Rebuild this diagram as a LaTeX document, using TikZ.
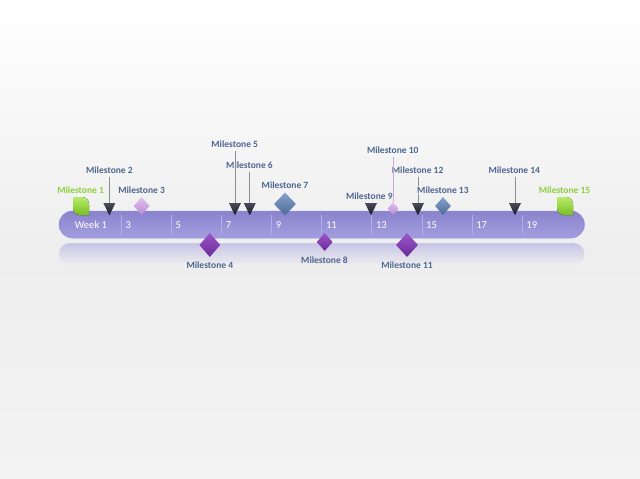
\documentclass[tikz,border=0pt]{standalone}
\usepackage{fontspec}
\setmainfont{Carlito}
\usetikzlibrary{shapes.geometric,fadings}
\definecolor{lbl}{HTML}{4E6590}
\definecolor{grn}{HTML}{8CCF3A}
\definecolor{bgtop}{HTML}{FFFFFF}
\definecolor{bgmid}{HTML}{EEEEEE}
\definecolor{bgbot}{HTML}{F3F3F3}
\definecolor{bgat190}{HTML}{F2F2F2}
\definecolor{bartop}{HTML}{8A83CD}
\definecolor{barbot}{HTML}{A39EE0}
\definecolor{barrim}{HTML}{9590D8}
\definecolor{divc}{HTML}{B3AFE6}
\definecolor{refl}{HTML}{C8C5E6}
\definecolor{purA}{HTML}{9C56C9}
\definecolor{purB}{HTML}{6A2A98}
\definecolor{bluA}{HTML}{86A2CB}
\definecolor{bluB}{HTML}{4D6A97}
\definecolor{lilA}{HTML}{E2C2F0}
\definecolor{lilB}{HTML}{B98AD3}
\definecolor{triA}{HTML}{4A4A5A}
\definecolor{triB}{HTML}{1E1E28}
\definecolor{grnA}{HTML}{B8EA6C}
\definecolor{grnB}{HTML}{78C020}
\definecolor{connc}{HTML}{8E8E8E}
\definecolor{lilconn}{HTML}{C9A9DE}
\tikzset{
  lab/.style={font=\bfseries\fontsize{9.5}{11}\selectfont, text=lbl, inner sep=1pt},
  glab/.style={lab, text=grn},
  wk/.style={font=\fontsize{10.6}{12}\selectfont, text=white, anchor=west, inner sep=0pt},
  dia/.style={diamond, inner sep=0pt, draw=none},
  pdia/.style={dia, top color=purA, bottom color=purB},
  bdia/.style={dia, top color=bluA, bottom color=bluB},
  ldia/.style={dia, top color=lilA, bottom color=lilB},
  conn/.style={draw=connc, line width=0.7pt},
  lconn/.style={draw=lilconn, line width=0.7pt},
  divline/.style={draw=divc, line width=0.6pt},
  tri/.pic={
    \fill[top color=triA, bottom color=triB] (-5.8,12) -- (5.8,12) -- (0,0) -- cycle;
    \coordinate (-top) at (0,12);
  },
  leaf/.pic={
    \fill[top color=grnA, bottom color=grnB] (-8,9) -- (1,9) arc[start angle=90, end angle=0, radius=7]
      -- (8,-9) -- (-1,-9) arc[start angle=270, end angle=180, radius=7] -- cycle;
    \coordinate (-c) at (0,0);
  }
}
\begin{document}
\begin{tikzpicture}[x=1pt,y=1pt]
\useasboundingbox (0,0) rectangle (640,-479);
% background
\fill[top color=bgtop, bottom color=bgmid] (0,0) rectangle (640,-250);
\fill[top color=bgmid, bottom color=bgbot] (0,-250) rectangle (640,-479);
% reflection
\fill[refl, path fading=south, rounded corners=11pt] (59,-243) rectangle (584.5,-265);
% bar
\node (bar) [draw=barrim, line width=0.5pt, top color=bartop, bottom color=barbot,
  rounded corners=13.5pt, minimum width=525.5pt, minimum height=27pt, inner sep=0pt]
  at (321.75,-224.5) {};
% dividers
\foreach \i in {0,...,8} {
  \draw[divline] (121.2+50.1*\i,-215) -- (121.2+50.1*\i,-234);
}
% week labels
\node[wk] (w1) at (74.7,-225) {Week 1};
\node[wk] (w3) at (125.4,-225) {3};
\node[wk] (w5) at (175.5,-225) {5};
\node[wk] (w7) at (225.6,-225) {7};
\node[wk] (w9) at (275.7,-225) {9};
\node[wk] (w11) at (325.8,-225) {11};
\node[wk] (w13) at (375.9,-225) {13};
\node[wk] (w15) at (426.0,-225) {15};
\node[wk] (w17) at (476.1,-225) {17};
\node[wk] (w19) at (526.2,-225) {19};
% markers
\pic (m1) at (81,-206) {leaf};
\pic (m15) at (565,-206) {leaf};
\pic (m2) at (109.4,-215) {tri};
\pic (m5) at (235,-215) {tri};
\pic (m6) at (249.8,-215) {tri};
\pic (m9) at (371,-215) {tri};
\pic (m12) at (418,-215) {tri};
\pic (m14) at (515,-215) {tri};
\node[ldia, minimum width=16pt, minimum height=18pt] (m3) at (141.6,-206) {};
\node[pdia, minimum width=21pt, minimum height=24pt] (m4) at (209.8,-245) {};
\node[bdia, minimum width=22pt, minimum height=23pt] (m7) at (285,-204) {};
\node[pdia, minimum width=16pt, minimum height=18pt] (m8) at (324.7,-242) {};
\node[ldia, minimum width=11pt, minimum height=13pt] (m10) at (393,-208.5) {};
\node[pdia, minimum width=22pt, minimum height=24pt] (m11) at (407,-245) {};
\node[bdia, minimum width=16pt, minimum height=18pt] (m13) at (443,-206) {};
% labels
\node[glab] (l1) at (80.6,-190.3) {Milestone 1};
\node[lab] (l2) at (109.4,-170) {Milestone 2};
\node[lab] (l3) at (141.6,-190.3) {Milestone 3};
\node[lab] (l4) at (209.8,-264.7) {Milestone 4};
\node[lab] (l5) at (234.7,-144.7) {Milestone 5};
\node[lab] (l6) at (249.5,-165) {Milestone 6};
\node[lab] (l7) at (285,-184.7) {Milestone 7};
\node[lab] (l8) at (324.5,-259.7) {Milestone 8};
\node[lab] (l10) at (392.7,-150) {Milestone 10};
\node[lab] (l11) at (407,-264.7) {Milestone 11};
\node[lab] (l12) at (417.6,-170) {Milestone 12};
\node[lab] (l14) at (514.3,-170) {Milestone 14};
\node[glab] (l15) at (564.5,-190.3) {Milestone 15};
% connectors
\draw[conn] (l2.south) ++(0,-2) -- (m2-top);
\draw[conn] (l5.south) ++(0.3,-2) -- (m5-top);
\draw[conn] (l6.south) ++(0.3,-2) -- (m6-top);
\draw[conn] (l12.south) ++(0.4,-2) -- (m12-top);
\draw[conn] (l14.south) ++(0.7,-2) -- (m14-top);
\draw[lconn] (l10.south) ++(0.3,-2) -- (m10.north);
\node[lab] (l9) at (369.3,-196) {Milestone 9};
\node[lab, fill=bgat190, inner sep=0.5pt] (l13) at (442.9,-190.3) {Milestone 13};
\end{tikzpicture}
\end{document}
